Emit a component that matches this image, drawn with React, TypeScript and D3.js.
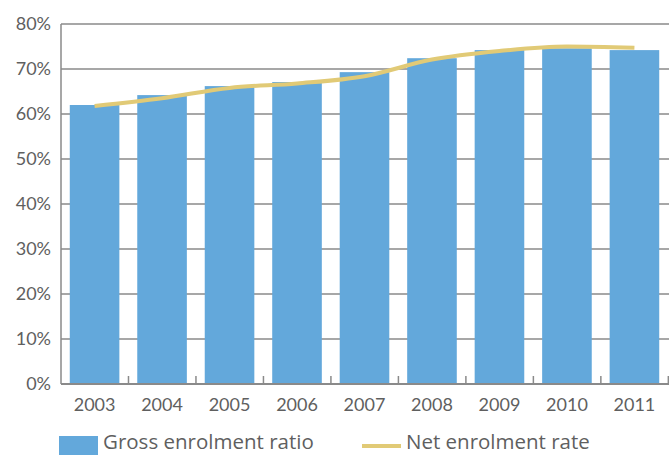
import React from "react";
import * as d3 from "d3";

const years = ["2003", "2004", "2005", "2006", "2007", "2008", "2009", "2010", "2011"];
const grossRatio = [62.0, 64.2, 66.2, 67.1, 69.3, 72.4, 74.2, 74.6, 74.2];
const netRate = [61.8, 63.5, 65.8, 66.8, 68.4, 72.1, 74.0, 75.0, 74.7];
const yTicks = [0, 10, 20, 30, 40, 50, 60, 70, 80];

const W = 669;
const H = 455;
const M = { left: 61, right: 1, top: 24, bottom: 71 };
const FONT = "Lato, 'Open Sans', sans-serif";
const LFONT = "'Open Sans', Lato, sans-serif";
const BAR = "#63A8DB";
const LINE = "#E1CA76";
const TEXT = "#5f5f5f";
const GRID = "#8a8a8a";

export default function App() {
  const x = d3.scaleBand<string>().domain(years).range([M.left, W - M.right]).paddingInner(0.265).paddingOuter(0.13);
  const y = d3.scaleLinear().domain([0, 80]).range([H - M.bottom, M.top]);
  const step = x.step();
  const x0 = M.left;
  const line = d3
    .line<number>()
    .x((_, i) => (x(years[i]) as number) + x.bandwidth() / 2)
    .y((d) => y(d))
    .curve(d3.curveMonotoneX);

  return (
    <svg width={W} height={H} style={{ position: "absolute", left: 0, top: 0 }}>
      <rect width={W} height={H} fill="#fff" />
      {yTicks.slice(1).map((t) => (
        <line key={t} x1={x0} x2={W} y1={y(t)} y2={y(t)} stroke={GRID} strokeWidth={1.5} />
      ))}
      {grossRatio.map((v, i) => (
        <rect key={i} x={x(years[i])} y={y(v)} width={x.bandwidth()} height={y(0) - y(v)} fill={BAR} />
      ))}
      <path d={line(netRate) || ""} fill="none" stroke={LINE} strokeWidth={4} strokeLinecap="butt" />
      <line x1={x0} x2={x0} y1={y(80)} y2={y(0)} stroke={GRID} strokeWidth={1.5} />
      <line x1={x0} x2={W} y1={y(0)} y2={y(0)} stroke={GRID} strokeWidth={2} />
      {years.map((yr, i) => (
        <line key={"t" + i} x1={x0 + step * (i + 1)} x2={x0 + step * (i + 1)} y1={y(0)} y2={y(0) - 8} stroke={GRID} strokeWidth={1.5} />
      ))}
      {yTicks.map((t) => (
        <text key={"y" + t} x={51} y={y(t)} dy="0.35em" textAnchor="end" fontFamily={FONT} fontSize={18} fill={TEXT}>
          {t + "%"}
        </text>
      ))}
      {years.map((yr) => (
        <text key={"x" + yr} x={(x(yr) as number) + x.bandwidth() / 2} y={411} textAnchor="middle" fontFamily={FONT} fontSize={18} fill={TEXT}>
          {yr}
        </text>
      ))}
      <rect x={59} y={436} width={39} height={19} fill={BAR} />
      <text x={103} y={449} fontFamily={LFONT} fontSize={20.5} fill={TEXT}>Gross enrolment ratio</text>
      <line x1={362} x2={401} y1={446} y2={446} stroke={LINE} strokeWidth={4} />
      <text x={406} y={449} fontFamily={LFONT} fontSize={20.5} fill={TEXT}>Net enrolment rate</text>
    </svg>
  );
}
